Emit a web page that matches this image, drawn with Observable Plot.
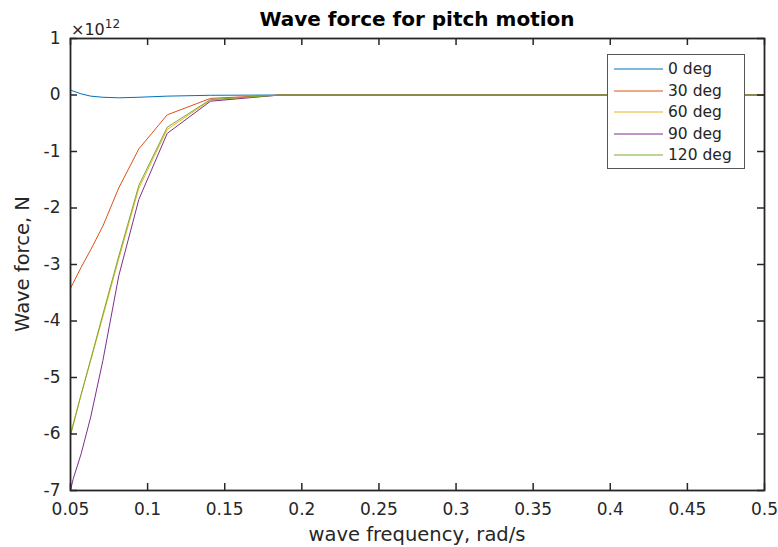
<!DOCTYPE html>
<html>
<head>
<meta charset="utf-8">
<script src="https://cdn.jsdelivr.net/npm/d3@7"></script>
<script src="https://cdn.jsdelivr.net/npm/@observablehq/plot@0.6"></script>
<style>
  html, body { margin: 0; padding: 0; background: #fff; }
  #wrap { position: relative; width: 778px; height: 547px; font-family: "DejaVu Sans", sans-serif; color: #262626; }
  #chart > svg { position: absolute; left: 0; top: 0; }
  .abs { position: absolute; white-space: nowrap; }
  #title { left: 70px; width: 694px; top: 9px; text-align: center; font-weight: bold; font-size: 20px; line-height: 20px; color: #000; }
  #xlabel { left: 70px; width: 694px; top: 525px; text-align: center; font-size: 19.5px; line-height: 20px; }
  #ylabel { left: 23px; top: 264px; font-size: 19.5px; line-height: 20px; transform: translate(-50%, -50%) rotate(-90deg); }
  #exp { left: 71px; top: 16px; font-size: 16px; line-height: 16px; }
  #exp sup { font-size: 12px; vertical-align: 7px; }
  #legend { left: 607px; top: 54px; width: 136px; height: 113px; border: 1px solid #555; background: #fff; }
  .lrow { position: absolute; left: 0; height: 20px; display: flex; align-items: center; font-size: 15.5px; }
  .lrow svg { display: block; margin-left: 6px; margin-right: 5px; }
</style>
</head>
<body>
<div id="wrap">
  <div id="chart"></div>
  <div id="title" class="abs">Wave force for pitch motion</div>
  <div id="xlabel" class="abs">wave frequency, rad/s</div>
  <div id="ylabel" class="abs">Wave force, N</div>
  <div id="exp" class="abs">×10<sup>12</sup></div>
  <div id="legend" class="abs"></div>
</div>
<script>
// ---- data (values in units of 1e12 N) ----
const freq = [0.05, 0.0517, 0.0569, 0.0631, 0.071, 0.0813, 0.0943, 0.1127, 0.1408, 0.186, 0.276, 0.5];
const seriesNames = ["0 deg", "30 deg", "60 deg", "90 deg", "120 deg"];
const force0deg   = [0.09, 0.07, 0.02, -0.02, -0.04, -0.05, -0.04, -0.02, -0.005, 0, 0, 0];
const force30deg  = [-3.42, -3.33, -3.05, -2.74, -2.32, -1.645, -0.954, -0.351, -0.06, 0, 0, 0];
const force60deg  = [-5.97, -5.82, -5.30, -4.70, -3.92, -2.90, -1.65, -0.61, -0.09, 0, 0, 0];
const force90deg  = [-7.00, -6.80, -6.35, -5.70, -4.70, -3.20, -1.85, -0.68, -0.11, 0, 0, 0];
const force120deg = [-6.03, -5.85, -5.30, -4.68, -3.88, -2.85, -1.60, -0.57, -0.08, 0, 0, 0];
const seriesColors = ["#0072BD", "#D95319", "#EDB120", "#7E2F8E", "#77AC30"];
const xTicks = [0.05, 0.1, 0.15, 0.2, 0.25, 0.3, 0.35, 0.4, 0.45, 0.5];
const xTickLabels = ["0.05", "0.1", "0.15", "0.2", "0.25", "0.3", "0.35", "0.4", "0.45", "0.5"];
const yTicks = [-7, -6, -5, -4, -3, -2, -1, 0, 1];
const yTickLabels = ["-7", "-6", "-5", "-4", "-3", "-2", "-1", "0", "1"];

const allValues = [force0deg, force30deg, force60deg, force90deg, force120deg];
const rows = seriesNames.flatMap((s, i) => freq.map((f, j) => ({ f, v: allValues[i][j], s })));
const xLab = new Map(xTicks.map((t, i) => [t, xTickLabels[i]]));
const yLab = new Map(yTicks.map((t, i) => [t, yTickLabels[i]]));

const axisColor = "#262626";
const W = 778, H = 547, mT = 38, mB = 57, mL = 70, mR = 14;
const frameW = W - mL - mR, frameH = H - mT - mB;
const tk = 7;
const chart = Plot.plot({
  width: W,
  height: H,
  marginTop: mT,
  marginBottom: mB,
  marginLeft: mL,
  marginRight: mR,
  style: { fontFamily: "DejaVu Sans, sans-serif", fontSize: "17px", color: axisColor, background: "white", overflow: "visible" },
  x: { domain: [0.05, 0.5] },
  y: { domain: [-7, 1] },
  color: { domain: seriesNames, range: seriesColors },
  marks: [
    Plot.line(rows, { x: "f", y: "v", z: "s", stroke: "s", strokeWidth: 1 }),
    // inward tick marks on all four sides
    Plot.tickX(xTicks, { x: d => d, insetTop: frameH - tk, stroke: axisColor, strokeWidth: 1.5 }),
    Plot.tickX(xTicks, { x: d => d, insetBottom: frameH - tk, stroke: axisColor, strokeWidth: 1.5 }),
    Plot.tickY(yTicks, { y: d => d, insetRight: frameW - tk, stroke: axisColor, strokeWidth: 1.5 }),
    Plot.tickY(yTicks, { y: d => d, insetLeft: frameW - tk, stroke: axisColor, strokeWidth: 1.5 }),
    Plot.frame({ stroke: axisColor, strokeWidth: 1.8 }),
    Plot.axisX({ ticks: xTicks, anchor: "bottom", tickSize: 0, tickPadding: 12, tickFormat: d => xLab.get(d), label: null, fontSize: 17, fill: axisColor }),
    Plot.axisY({ ticks: yTicks, anchor: "left", tickSize: 0, tickPadding: 10, tickFormat: d => yLab.get(d), label: null, fontSize: 17, fill: axisColor })
  ]
});
document.getElementById("chart").appendChild(chart);

// legend
const legend = document.getElementById("legend");
seriesNames.forEach((name, i) => {
  const row = document.createElement("div");
  row.className = "lrow";
  row.style.top = (4 + i * 21.5) + "px";
  row.innerHTML = `<svg width="49" height="4"><line x1="0" y1="2" x2="49" y2="2" stroke="${seriesColors[i]}" stroke-width="1"/></svg><span>${name}</span>`;
  legend.appendChild(row);
});
</script>
</body>
</html>
